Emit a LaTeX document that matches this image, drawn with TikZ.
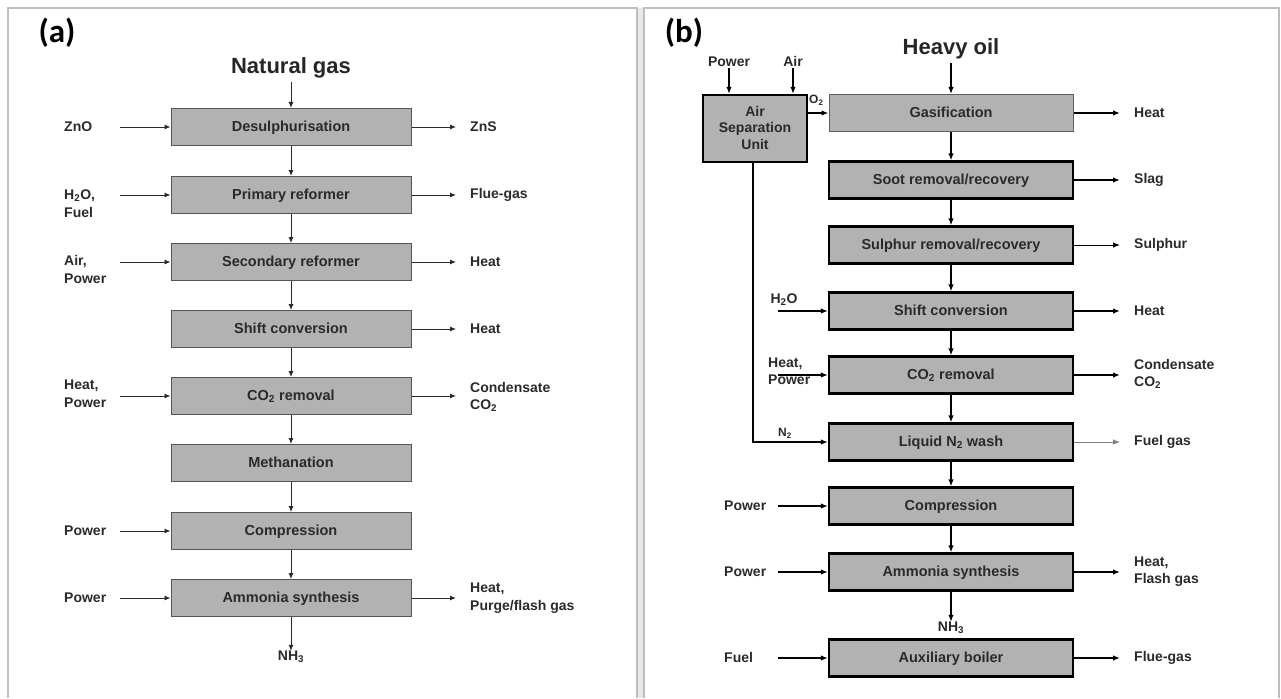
\documentclass[tikz,border=0pt]{standalone}
\usepackage{fontspec}
\setmainfont{Liberation Sans}
\newfontfamily\carlito{Carlito}
\usepackage{xcolor}
\usepackage{tikz}
\usetikzlibrary{arrows.meta, positioning}
\definecolor{boxgray}{HTML}{B2B2B2}
\definecolor{inkgray}{HTML}{2A2A2A}
\definecolor{framegray}{HTML}{BEBEBE}

\begin{document}
\begin{tikzpicture}[x=1pt, y=-1pt,
  stage/.style={rectangle, draw=inkgray!80, line width=1pt, fill=boxgray, minimum width=240pt, minimum height=37pt, text depth=0.25ex, font=\fontsize{14.5}{17}\selectfont\bfseries, text=inkgray},
  heavyStage/.style={stage, minimum width=244pt, draw=black, line width=2.2pt},
  lightStage/.style={stage, minimum width=244pt, draw=gray!75!black, line width=1pt},
  lab/.style={font=\fontsize{14}{17.5}\selectfont\bfseries, text=inkgray, align=left, inner sep=0pt},
  small/.style={font=\fontsize{12}{14}\selectfont\bfseries, text=inkgray, inner sep=0pt},
  title/.style={font=\fontsize{22}{26}\selectfont\bfseries, text=black!85},
  panel/.style={font=\carlito\fontsize{33}{36}\selectfont\bfseries},
  arrow/.style={-{Latex[length=6pt, width=5pt]}, line width=0.9pt, inkgray},
  thickArrow/.style={-{Latex[length=7pt, width=5.5pt]}, line width=1.8pt, black},
  thinArrow/.style={-{Latex[length=7pt, width=5.5pt]}, line width=1pt, black},
  frame/.style={draw=framegray, line width=1.6pt}
]
\useasboundingbox (0,0) rectangle (1281,698);
% panel frames
\fill[gray!18] (637,8) rectangle (644,698);
\draw[frame] (8,698) -- (8,8) -- (637,8) -- (637,698);
\draw[frame] (644,698) -- (644,8) -- (1279,8) -- (1279,698);

% (a) natural gas route
\node[panel] (tagA) at (57,33) {(a)};
\node[title] (gasA) at (291,68) {Natural gas};
\node[stage] (desulph) at (291,127) {Desulphurisation};
\node[stage] (primary) at (291,195) {Primary reformer};
\node[stage] (secondary) at (291,262) {Secondary reformer};
\node[stage] (shiftA) at (291,329) {Shift conversion};
\node[stage] (co2A) at (291,396) {CO\textsubscript{2} removal};
\node[stage] (methan) at (291,463) {Methanation};
\node[stage] (compA) at (291,531) {Compression};
\node[stage] (synA) at (291,598) {Ammonia synthesis};
\node[lab] (nh3A) at (291,657) {NH\textsubscript{3}};
\draw[arrow] (gasA) -- (desulph);
\draw[arrow] (desulph) -- (primary);
\draw[arrow] (primary) -- (secondary);
\draw[arrow] (secondary) -- (shiftA);
\draw[arrow] (shiftA) -- (co2A);
\draw[arrow] (co2A) -- (methan);
\draw[arrow] (methan) -- (compA);
\draw[arrow] (compA) -- (synA);
\draw[arrow] (synA) -- (nh3A);
\coordinate (inA) at (120,0);
\coordinate (outA) at (456,0);
\node[lab, anchor=west] (znoA) at (64,127) {ZnO};
\node[lab, anchor=west] (waterA) at (64,203.5) {H\textsubscript{2}O,\\Fuel};
\node[lab, anchor=west] (airA) at (64,269.5) {Air,\\Power};
\node[lab, anchor=west] (heatInA) at (64,393.5) {Heat,\\Power};
\node[lab, anchor=west] (powCompA) at (64,531) {Power};
\node[lab, anchor=west] (powSynA) at (64,598) {Power};
\draw[arrow] (inA |- desulph) -- (desulph);
\draw[arrow] (inA |- primary) -- (primary);
\draw[arrow] (inA |- secondary) -- (secondary);
\draw[arrow] (inA |- co2A) -- (co2A);
\draw[arrow] (inA |- compA) -- (compA);
\draw[arrow] (inA |- synA) -- (synA);
\node[lab, anchor=west] (znsA) at (470,127) {ZnS};
\node[lab, anchor=west] (flueA) at (470,195) {Flue-gas};
\node[lab, anchor=west] (heatSecA) at (470,262) {Heat};
\node[lab, anchor=west] (heatShiftA) at (470,329) {Heat};
\node[lab, anchor=west] (condA) at (470,397) {Condensate\\CO\textsubscript{2}};
\node[lab, anchor=west] (purgeA) at (470,598) {Heat,\\Purge/flash gas};
\draw[arrow] (desulph) -- (outA |- desulph);
\draw[arrow] (primary) -- (outA |- primary);
\draw[arrow] (secondary) -- (outA |- secondary);
\draw[arrow] (shiftA) -- (outA |- shiftA);
\draw[arrow] (co2A) -- (outA |- co2A);
\draw[arrow] (synA) -- (outA |- synA);

% (b) heavy oil route
\node[panel] (tagB) at (684,33) {(b)};
\node[title] (oilB) at (951,49) {Heavy oil};
\node[heavyStage, minimum width=104pt, minimum height=67pt, align=center, font=\fontsize{14}{16.5}\selectfont\bfseries] (asu) at (755,128.5) {Air\\Separation\\Unit};
\node[lab, anchor=base, inner sep=1pt] (powAsu) at (729,67) {Power};
\node[lab, anchor=base, inner sep=1pt] (airAsu) at (793,67) {Air};
\node[small, anchor=west] (o2) at (809,100) {O\textsubscript{2}};
\node[lightStage] (gasif) at (951,113) {Gasification};
\node[heavyStage] (soot) at (951,180) {Soot removal/recovery};
\node[heavyStage] (sulph) at (951,245) {Sulphur removal/recovery};
\node[heavyStage] (shiftB) at (951,311) {Shift conversion};
\node[heavyStage] (co2B) at (951,375) {CO\textsubscript{2} removal};
\node[heavyStage] (wash) at (951,442) {Liquid N\textsubscript{2} wash};
\node[heavyStage] (compB) at (951,506) {Compression};
\node[heavyStage] (synB) at (951,572) {Ammonia synthesis};
\node[lab] (nh3B) at (951,628) {NH\textsubscript{3}};
\node[heavyStage] (boiler) at (951,658) {Auxiliary boiler};
\draw[thinArrow, line width=1.5pt] (powAsu.south) -- (powAsu.south |- asu.north);
\draw[thinArrow, line width=1.5pt] (airAsu.south) -- (airAsu.south |- asu.north);
\draw[thickArrow] (asu.east |- gasif) -- (gasif);
\draw[thickArrow] (oilB) -- (gasif);
\draw[thickArrow] (gasif) -- (soot);
\draw[thickArrow] (soot) -- (sulph);
\draw[thickArrow] (sulph) -- (shiftB);
\draw[thickArrow] (shiftB) -- (co2B);
\draw[thickArrow] (co2B) -- (wash);
\draw[thickArrow] (wash) -- (compB);
\draw[thickArrow] (compB) -- (synB);
\draw[thickArrow] (synB) -- (nh3B);
% nitrogen from the air separation unit
\draw[thickArrow] ([xshift=-2pt]asu.south) |- (wash);
\node[small] (n2) at (785,433) {N\textsubscript{2}};
\coordinate (inB) at (778,0);
\coordinate (outB) at (1120,0);
\node[lab] (waterB) at (784,300) {H\textsubscript{2}O};
\node[lab, anchor=west] (heatInB) at (768,371) {Heat,\\Power};
\node[lab, anchor=west] (powCompB) at (724,506) {Power};
\node[lab, anchor=west] (powSynB) at (724,572) {Power};
\node[lab, anchor=west] (fuelB) at (724,657) {Fuel};
\draw[thickArrow] (inB |- shiftB) -- (shiftB);
\draw[thickArrow] (inB |- co2B) -- (co2B);
\draw[thickArrow] (inB |- compB) -- (compB);
\draw[thickArrow] (inB |- synB) -- (synB);
\draw[thickArrow] (inB |- boiler) -- (boiler);
\node[lab, anchor=west] (heatGasB) at (1134,113) {Heat};
\node[lab, anchor=west] (slagB) at (1134,180) {Slag};
\node[lab, anchor=west] (sulphurB) at (1134,245) {Sulphur};
\node[lab, anchor=west] (heatShiftB) at (1134,311) {Heat};
\node[lab, anchor=west] (condB) at (1134,374) {Condensate\\CO\textsubscript{2}};
\node[lab, anchor=west] (fuelGasB) at (1134,442) {Fuel gas};
\node[lab, anchor=west] (flashB) at (1134,571.5) {Heat,\\Flash gas};
\node[lab, anchor=west] (flueB) at (1134,658) {Flue-gas};
\draw[thickArrow] (gasif) -- (outB |- gasif);
\draw[thickArrow] (soot) -- (outB |- soot);
\draw[thinArrow] (sulph) -- (outB |- sulph);
\draw[thickArrow] (shiftB) -- (outB |- shiftB);
\draw[thickArrow] (co2B) -- (outB |- co2B);
\draw[thinArrow, gray] (wash) -- (outB |- wash);
\draw[thickArrow] (synB) -- (outB |- synB);
\draw[thickArrow] (boiler) -- (outB |- boiler);
\end{tikzpicture}
\end{document}
